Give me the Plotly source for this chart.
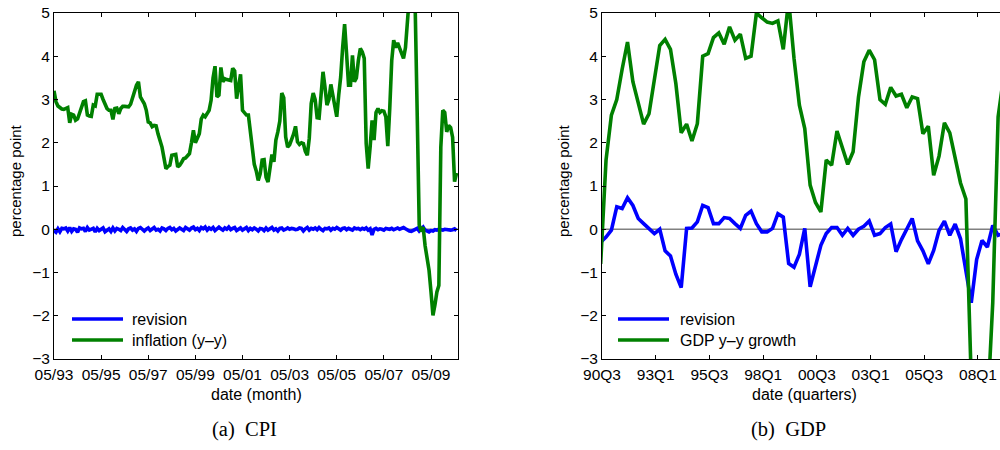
import plotly.graph_objects as go

# ---------------- data ----------------
# (a) CPI, monthly from 05/93
cpi_ticks = ["05/93", "05/95", "05/97", "05/99", "05/01", "05/03", "05/05", "05/07", "05/09"]
cpi_inflation = [
    3.20, 2.95, 2.85, 2.80, 2.78, 2.77, 2.78, 2.81, 2.46, 2.66,
    2.64, 2.52, 2.55, 2.70, 2.83, 2.95, 2.97, 2.64, 2.62, 2.61,
    2.87, 2.85, 3.12, 3.13, 3.12, 3.00, 2.88, 2.79, 2.75, 2.75,
    2.54, 2.79, 2.80, 2.67, 2.79, 2.84, 2.84, 2.83, 2.83, 2.89,
    3.04, 3.20, 3.33, 3.41, 3.06, 2.98, 2.90, 2.75, 2.48, 2.46,
    2.37, 2.40, 2.39, 2.20, 2.05, 1.90, 1.65, 1.40, 1.45, 1.48,
    1.71, 1.73, 1.73, 1.44, 1.48, 1.55, 1.63, 1.65, 1.70, 1.75,
    2.00, 2.29, 2.00, 2.10, 2.21, 2.55, 2.64, 2.60, 2.68, 2.75,
    2.98, 3.50, 3.77, 3.06, 3.10, 3.74, 3.41, 3.48, 3.46, 3.44,
    3.44, 3.72, 3.66, 3.02, 3.29, 3.58, 2.75, 2.70, 2.64, 2.64,
    2.20, 1.83, 1.50, 1.35, 1.13, 1.28, 1.60, 1.61, 1.20, 1.09,
    1.50, 1.73, 1.56, 2.06, 2.25, 2.50, 3.15, 3.04, 2.13, 1.90,
    1.95, 2.05, 2.20, 2.38, 2.02, 1.96, 2.00, 1.98, 1.80, 1.71,
    2.10, 2.91, 3.15, 3.00, 2.58, 2.57, 3.10, 3.64, 3.29, 2.87,
    3.00, 3.35, 3.10, 2.80, 2.60, 3.10, 3.52, 4.20, 4.74, 4.06,
    3.33, 3.33, 4.02, 3.41, 3.50, 3.90, 4.18, 4.10, 3.95, 1.98,
    1.40, 1.90, 2.52, 2.06, 2.70, 2.79, 2.70, 2.74, 2.73, 2.60,
    1.92, 2.80, 3.90, 4.37, 4.20, 4.31, 4.20, 4.05, 3.95, 4.20,
    4.90, 5.40, 5.60, 5.30, 5.00, 2.60, 0.10, -0.05, 0.05, -0.38,
    -0.64, -0.95, -1.45, -1.99, -1.75, -1.45, -1.30, 1.90, 2.75, 2.70,
    2.25, 2.40, 2.35, 2.13, 1.10, 1.30,
]
cpi_revision = [
    -0.03, -0.07, 0.01, -0.06, 0.02, 0.01, 0.03, -0.04, 0.04, -0.05,
    0.01, 0.00, -0.07, 0.03, 0.01, 0.02, -0.05, 0.04, -0.02, 0.00,
    0.02, -0.06, 0.02, -0.03, 0.00, 0.03, -0.06, -0.02, 0.01, -0.05,
    0.03, -0.04, 0.02, 0.00, -0.03, 0.04, -0.02, -0.05, 0.01, 0.03,
    -0.02, 0.01, -0.05, 0.02, 0.04, -0.01, -0.04, 0.00, 0.03, -0.03,
    0.01, 0.04, -0.02, 0.00, -0.04, 0.03, 0.01, -0.03, 0.02, 0.04,
    -0.01, 0.02, -0.04, 0.01, 0.03, 0.00, -0.03, 0.04, 0.01, -0.02,
    0.03, 0.05, -0.01, 0.02, -0.03, 0.04, 0.01, 0.05, -0.02, 0.03,
    0.00, 0.04, -0.03, 0.02, 0.05, 0.01, -0.02, 0.03, 0.00, 0.05,
    -0.01, 0.02, 0.04, -0.03, 0.01, 0.03, -0.02, 0.00, 0.04, -0.03,
    0.02, -0.01, 0.03, 0.00, -0.04, 0.02, 0.01, -0.03, 0.03, -0.02,
    0.00, 0.04, -0.02, 0.01, -0.04, 0.02, 0.03, -0.02, 0.00, 0.03,
    0.00, 0.02, 0.01, -0.01, 0.00, 0.03, 0.02, -0.04, 0.01, 0.04,
    -0.02, 0.02, 0.00, 0.03, -0.01, 0.04, 0.00, -0.03, 0.02, 0.01,
    0.03, -0.02, 0.02, 0.00, 0.04, 0.01, -0.02, 0.02, 0.03, -0.01,
    0.02, 0.00, -0.02, 0.03, 0.01, 0.02, -0.01, 0.02, 0.00, 0.03,
    -0.02, 0.01, -0.13, 0.00, 0.02, -0.01, 0.01, 0.00, -0.02, 0.02,
    0.01, 0.00, 0.02, -0.01, 0.01, 0.03, 0.00, 0.02, 0.04, 0.01,
    -0.02, -0.04, -0.05, -0.03, -0.01, 0.02, -0.04, 0.01, 0.05, -0.02,
    -0.05, -0.06, -0.03, -0.04, -0.01, -0.02, 0.00, -0.01, -0.02, 0.00,
    -0.01, 0.00, -0.02, -0.01, 0.01, -0.03,
]

# (b) GDP, quarterly (first observation 90Q2)
gdp_ticks = ["90Q3", "93Q1", "95Q3", "98Q1", "00Q3", "03Q1", "05Q3", "08Q1"]
gdp_growth = [
    -0.80, 1.60, 2.64, 3.00, 3.70, 4.33, 3.41, 2.94, 2.43, 2.67,
    3.52, 4.25, 4.39, 4.16, 3.37, 2.23, 2.43, 2.04, 2.44, 4.00,
    4.06, 4.43, 4.54, 4.28, 4.68, 4.37, 4.51, 3.95, 4.00, 5.00,
    4.89, 4.79, 4.76, 4.82, 4.16, 5.30, 3.95, 2.87, 2.33, 1.02,
    0.62, 0.40, 1.60, 1.48, 2.27, 1.90, 1.50, 1.79, 3.05, 3.87,
    4.14, 3.92, 3.00, 2.89, 3.28, 3.08, 3.12, 2.81, 3.06, 3.02,
    2.21, 2.38, 1.25, 1.69, 2.46, 2.23, 1.61, 1.07, 0.70, -3.50,
    -5.00, -5.20, -4.20, -1.70, 2.60, 3.50,
]
gdp_revision = [
    -0.30, -0.18, -0.02, 0.52, 0.48, 0.73, 0.55, 0.25, 0.13, 0.00,
    -0.10, 0.00, -0.50, -0.62, -1.04, -1.35, 0.02, 0.03, 0.17, 0.55,
    0.50, 0.13, 0.13, 0.27, 0.25, 0.13, 0.02, 0.32, 0.42, 0.13,
    -0.06, -0.06, 0.02, 0.36, 0.28, -0.79, -0.88, -0.58, 0.02, -1.33,
    -0.88, -0.37, -0.10, 0.04, 0.04, -0.14, 0.02, -0.14, 0.00, 0.07,
    0.19, -0.14, -0.10, 0.04, 0.12, -0.52, -0.24, 0.00, 0.25, -0.27,
    -0.50, -0.80, -0.49, -0.03, 0.19, -0.14, 0.12, -0.22, -0.95, -1.70,
    -0.70, -0.26, -0.41, 0.09, -0.14, -0.10,
]

# ---------------- layout helpers ----------------
W, H = 1000, 450
BLUE = "#0000FF"
GREEN = "#008000"
SANS = "Liberation Sans"
SERIF = "Liberation Serif"


def px(x):
    return x / W


def py(y):
    return 1 - y / H


x_cpi = list(range(len(cpi_inflation)))           # months since 05/93
x_gdp = [i - 0.25 for i in range(len(gdp_growth))]  # quarters since 90Q3

fig = go.Figure()
LW = 3.6
fig.add_trace(go.Scatter(x=x_cpi, y=cpi_revision, mode="lines", line=dict(color=BLUE, width=LW),
                         xaxis="x", yaxis="y", showlegend=False))
fig.add_trace(go.Scatter(x=x_cpi, y=cpi_inflation, mode="lines", line=dict(color=GREEN, width=LW),
                         xaxis="x", yaxis="y", showlegend=False))
fig.add_trace(go.Scatter(x=x_gdp, y=gdp_revision, mode="lines", line=dict(color=BLUE, width=LW),
                         xaxis="x2", yaxis="y2", showlegend=False))
fig.add_trace(go.Scatter(x=x_gdp, y=gdp_growth, mode="lines", line=dict(color=GREEN, width=LW),
                         xaxis="x2", yaxis="y2", showlegend=False))

tickfont = dict(family=SANS, size=15.5, color="black")
ydom = [py(359), py(13)]
common = dict(ticks="inside", ticklen=4, tickwidth=1, tickcolor="black", showline=True,
              linecolor="black", linewidth=1, showgrid=False, zeroline=False, tickfont=tickfont,
              automargin=False)

fig.update_layout(
    template="none",
    width=W, height=H, margin=dict(l=0, r=0, t=0, b=0, pad=0),
    paper_bgcolor="white", plot_bgcolor="white", showlegend=False,
    xaxis=dict(domain=[px(54), px(458)], anchor="y", range=[0, 205.75],
               tickmode="array", tickvals=[24 * i for i in range(len(cpi_ticks))], ticktext=cpi_ticks,
               mirror="ticks", ticklabelstandoff=1, **common),
    yaxis=dict(domain=ydom, anchor="x", range=[-3, 5], tickmode="array", tickvals=list(range(-3, 6)),
               mirror="ticks", **common),
    xaxis2=dict(domain=[px(602), 1.0], anchor="y2", range=[0, 74.1],
                tickmode="array", tickvals=[10 * i for i in range(len(gdp_ticks))], ticktext=gdp_ticks,
                mirror="ticks", ticklabelstandoff=1, **common),
    yaxis2=dict(domain=ydom, anchor="x2", range=[-3, 5], tickmode="array", tickvals=list(range(-3, 6)),
                mirror=False, **common),
)

# zero reference line
for xr, yr in (("x domain", "y"), ("x2 domain", "y2")):
    fig.add_shape(type="line", xref=xr, yref=yr, x0=0, x1=1, y0=0, y1=0,
                  line=dict(color="#808080", width=1.5), layer="below")

ann = []
# axis titles
ann.append(dict(x=px(256), y=py(394), text="date (month)",
                font=dict(family=SANS, size=16, color="black")))
ann.append(dict(x=px(804), y=py(394), text="date (quarters)",
                font=dict(family=SANS, size=16, color="black")))
for xc in (15, 563):
    ann.append(dict(x=px(xc), y=py(181), text="percentage point", textangle=-90,
                    font=dict(family=SANS, size=15, color="black")))
# captions
ann.append(dict(x=px(244), y=py(429), text="(a)  CPI",
                font=dict(family=SERIF, size=20.5, color="black")))
ann.append(dict(x=px(788), y=py(429), text="(b)  GDP",
                font=dict(family=SERIF, size=20.5, color="black")))

# legends (line samples + labels)
legends = [
    (72, 123, 130, [("revision", BLUE), ("inflation (y\u2013y)", GREEN)]),
    (618, 669, 678, [("revision", BLUE), ("GDP y\u2013y growth", GREEN)]),
]
for x0, x1, xt, items in legends:
    for k, (label, col) in enumerate(items):
        yy = 319 + 21 * k
        fig.add_shape(type="line", xref="paper", yref="paper", x0=px(x0), x1=px(x1),
                      y0=py(yy), y1=py(yy), line=dict(color=col, width=LW))
        ann.append(dict(x=px(xt), y=py(yy), text=label, xanchor="left",
                        font=dict(family=SANS, size=16, color="black")))

for a in ann:
    a.setdefault("xref", "paper")
    a.setdefault("yref", "paper")
    a.setdefault("xanchor", "center")
    a.setdefault("yanchor", "middle")
    a.setdefault("showarrow", False)
fig.update_layout(annotations=ann)

fig.write_html("out.html", config={"displayModeBar": False})
